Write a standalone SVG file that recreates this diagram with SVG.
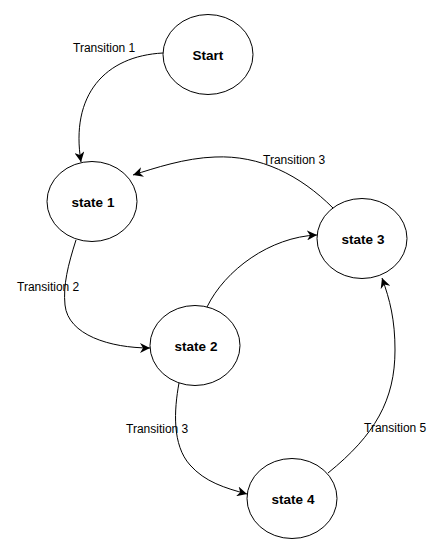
<svg xmlns="http://www.w3.org/2000/svg" width="443" height="553" viewBox="0 0 443 553">
<style>
.node ellipse{fill:#fff;stroke:#000;stroke-width:1}
.node text{font-family:"Liberation Sans",Arial,sans-serif;font-size:13.5px;font-weight:bold;text-anchor:middle;dominant-baseline:central;fill:#000}
.edge{fill:none;stroke:#000;stroke-width:1;marker-end:url(#arr)}
.lbl{font-family:"Liberation Sans",Arial,sans-serif;font-size:12px;fill:#000;dominant-baseline:central}
</style>
<defs>
<marker id="arr" markerWidth="11" markerHeight="10" refX="10" refY="5" orient="auto" markerUnits="userSpaceOnUse">
<path d="M0,0 L10,5 L0,10 L3,5 Z" fill="#000"/>
</marker>
</defs>
<rect width="443" height="553" fill="#fff"/>
<g id="connectors">
<path class="edge" d="M163,53 C105,56 70,95 81,162"/>
<path class="edge" d="M333,208 C300,175 260,155 215,157 C185,158 155,168 133,175"/>
<path class="edge" d="M76,240 C68,265 63,285 65,305 C68,335 110,348 150,348"/>
<path class="edge" d="M207,307 C225,270 270,237 317,235"/>
<path class="edge" d="M179,383 C174,410 172,445 190,465 C205,482 225,488 247,494"/>
<path class="edge" d="M328,473 C375,435 395,400 395,350 C395,320 390,300 382,278"/>
<text class="lbl" x="73" y="48">Transition 1</text>
<text class="lbl" x="263" y="160">Transition 3</text>
<text class="lbl" x="17" y="287">Transition 2</text>
<text class="lbl" x="126" y="429">Transition 3</text>
<text class="lbl" x="364" y="428">Transition 5</text>
</g>
<g id="start" class="node"><ellipse cx="208" cy="54.5" rx="45" ry="40"/><text x="208" y="55.5">Start</text></g>
<g id="state1" class="node"><ellipse cx="92" cy="201.5" rx="45" ry="40"/><text x="93" y="202.5">state 1</text></g>
<g id="state3" class="node"><ellipse cx="362" cy="238.5" rx="45" ry="40"/><text x="363" y="239.5">state 3</text></g>
<g id="state2" class="node"><ellipse cx="195" cy="345.5" rx="45" ry="40"/><text x="196" y="346.5">state 2</text></g>
<g id="state4" class="node"><ellipse cx="292" cy="498.5" rx="45" ry="40"/><text x="293" y="499.5">state 4</text></g>
</svg>
